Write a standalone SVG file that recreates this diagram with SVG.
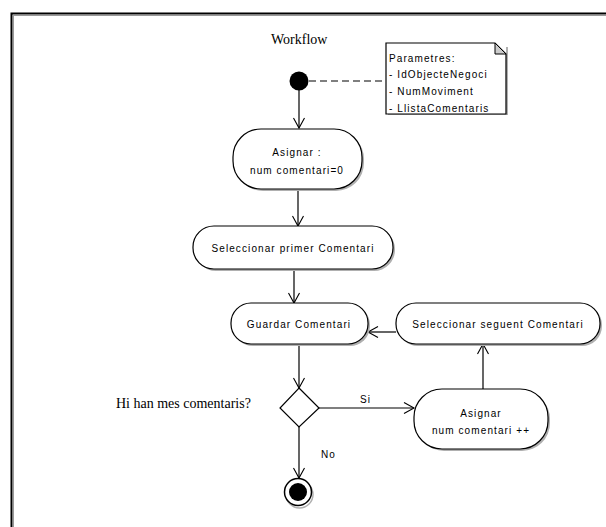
<svg xmlns="http://www.w3.org/2000/svg" width="606" height="527" viewBox="0 0 606 527">
  <style>
    .frame { stroke: #000; stroke-width: 2; fill: none; }
    .frame-shade { stroke: #999; stroke-width: 1; fill: none; }
    .act { fill: #fff; stroke: #000; stroke-width: 1.2; }
    .shade { fill: #b0b0b0; }
    .edge { stroke: #000; stroke-width: 1.2; fill: none; }
    .dash { stroke: #000; stroke-width: 1.2; fill: none; stroke-dasharray: 7 4; }
    .lbl { font-family: "Liberation Sans", Arial, sans-serif; font-size: 10px; letter-spacing: 1.1px; fill: #000; }
    .ctr { text-anchor: middle; }
    .serif { font-family: "Liberation Serif", "Times New Roman", serif; font-size: 14px; fill: #000; }
  </style>
  <defs>
    <marker id="open" markerUnits="userSpaceOnUse" markerWidth="14" markerHeight="14" viewBox="-12 -7 14 14" refX="0" refY="0" orient="auto">
      <path d="M-10,-5.5 L0,0 L-10,5.5" fill="none" stroke="#000" stroke-width="1.1"/>
    </marker>
  </defs>

  <rect width="606" height="527" fill="#fff"/>

  <!-- outer frame (top and left edges) -->
  <g id="frame">
    <path class="frame-shade" d="M13,15.5 H606 M13.5,15 V527"/>
    <path class="frame" d="M11.5,527 V13.5 H606"/>
  </g>

  <text id="title" class="serif" x="271" y="44">Workflow</text>

  <!-- connectors -->
  <g id="connectors">
    <path class="dash" d="M309,81 H386"/>
    <path class="edge" d="M299,90 V128" marker-end="url(#open)"/>
    <path class="edge" d="M298,189 V226" marker-end="url(#open)"/>
    <path class="edge" d="M294,269 V303" marker-end="url(#open)"/>
    <path class="edge" d="M299,344 V388" marker-end="url(#open)"/>
    <path class="edge" d="M319,408 H414" marker-end="url(#open)"/>
    <path class="edge" d="M483,389 V344" marker-end="url(#open)"/>
    <path class="edge" d="M396,332 H368" marker-end="url(#open)"/>
    <path class="edge" d="M299,427 V478" marker-end="url(#open)"/>
    <text class="lbl" x="360" y="403">Si</text>
    <text class="lbl" x="321" y="458">No</text>
  </g>

  <!-- initial node -->
  <g id="start">
    <circle cx="299" cy="81" r="9.5" fill="#000"/>
  </g>

  <!-- parameters note -->
  <g id="note">
    <path class="shade" d="M388,115 H508 V47 H506 V113 H388 Z"/>
    <path d="M386,43 H495 L506,54 V114 H386 Z" fill="#fff" stroke="#000" stroke-width="1.2"/>
    <path d="M495,43 V54 H506 Z" fill="#ccc" stroke="#000" stroke-width="1"/>
    <text class="lbl" x="389" y="62">Parametres:</text>
    <text class="lbl" x="389" y="78">- IdObjecteNegoci</text>
    <text class="lbl" x="389" y="95">- NumMoviment</text>
    <text class="lbl" x="389" y="112">- LlistaComentaris</text>
  </g>

  <g id="asignar-inicial">
    <rect class="shade" x="235" y="131" width="129" height="60" rx="28"/>
    <rect class="act" x="233" y="129" width="129" height="60" rx="28"/>
    <text class="lbl ctr" x="297" y="156">Asignar :</text>
    <text class="lbl ctr" x="297" y="174">num comentari=0</text>
  </g>

  <g id="seleccionar-primer">
    <rect class="shade" x="195" y="228" width="200" height="43" rx="21"/>
    <rect class="act" x="193" y="226" width="200" height="43" rx="21"/>
    <text class="lbl ctr" x="293" y="252">Seleccionar primer Comentari</text>
  </g>

  <g id="guardar">
    <rect class="shade" x="233" y="305" width="137" height="41" rx="20"/>
    <rect class="act" x="231" y="303" width="137" height="41" rx="20"/>
    <text class="lbl ctr" x="299" y="328">Guardar Comentari</text>
  </g>

  <g id="seleccionar-seguent">
    <rect class="shade" x="398" y="305" width="204" height="41" rx="20"/>
    <rect class="act" x="396" y="303" width="204" height="41" rx="20"/>
    <text class="lbl ctr" x="498" y="328">Seleccionar seguent Comentari</text>
  </g>

  <g id="decisio">
    <path d="M299,388 L319,408 L299,427 L280,408 Z" fill="#fff" stroke="#000" stroke-width="1.2"/>
    <text class="serif" x="116" y="408">Hi han mes comentaris?</text>
  </g>

  <g id="asignar-increment">
    <rect class="shade" x="416" y="391" width="134" height="60" rx="28"/>
    <rect class="act" x="414" y="389" width="134" height="60" rx="28"/>
    <text class="lbl ctr" x="481" y="417">Asignar</text>
    <text class="lbl ctr" x="481" y="434">num comentari ++</text>
  </g>

  <!-- final node -->
  <g id="final">
    <circle cx="298" cy="493" r="13.5" fill="#fff" stroke="#b0b0b0" stroke-width="1.5" transform="translate(1.5,1.5)"/>
    <circle cx="298" cy="492" r="13.5" fill="#fff" stroke="#000" stroke-width="1.5"/>
    <circle cx="298" cy="492" r="9" fill="#000"/>
  </g>
</svg>
